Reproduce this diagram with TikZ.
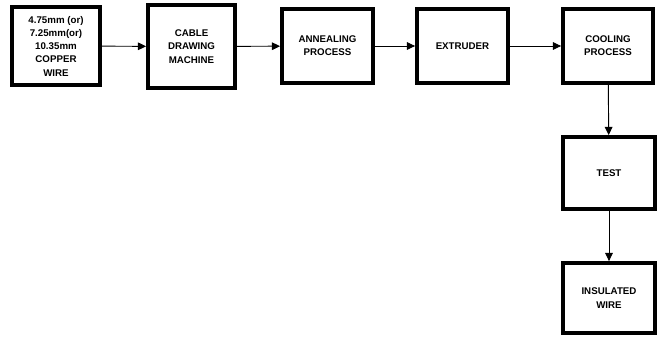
\documentclass[tikz,border=0pt]{standalone}
\usepackage{fontspec}
\setmainfont{Liberation Sans}
\usetikzlibrary{arrows.meta}
\begin{document}
\begin{tikzpicture}[
    x=0.03cm, y=-0.03cm,
    stage/.style={draw, rectangle, line width=3.2pt, fill=white, align=center, inner sep=2pt,
      font=\fontsize{8.3}{11.3}\selectfont\bfseries},
    flow/.style={draw, line width=0.8pt, -{Triangle[length=7pt, width=6.5pt]}}
]
\useasboundingbox (0,0) rectangle (658,337);
% stages
\node[stage, minimum width=2.64cm, minimum height=2.34cm] (wire) at (56,46) {4.75mm (or)\\7.25mm(or)\\10.35mm\\COPPER\\WIRE};
\node[stage, minimum width=2.61cm, minimum height=2.49cm] (cable) at (191.5,46.5) {CABLE\\DRAWING\\MACHINE};
\node[stage, minimum width=2.73cm, minimum height=2.22cm] (anneal) at (327.5,46) {ANNEALING\\PROCESS};
\node[stage, minimum width=2.73cm, minimum height=2.22cm] (extr) at (462.5,46) {EXTRUDER};
\node[stage, minimum width=2.70cm, minimum height=2.22cm] (cool) at (608,46) {COOLING\\PROCESS};
\node[stage, minimum width=2.76cm, minimum height=2.16cm] (test) at (609,173) {TEST};
\node[stage, minimum width=2.76cm, minimum height=2.10cm] (insul) at (609,298) {INSULATED\\WIRE};
% connectors
\draw[flow] (wire) -- (cable);
\draw[flow] (cable) -- (anneal);
\draw[flow] (anneal) -- (extr);
\draw[flow] (extr) -- (cool);
\draw[flow] (cool) -- (test);
\draw[flow] (test) -- (insul);
\end{tikzpicture}
\end{document}
